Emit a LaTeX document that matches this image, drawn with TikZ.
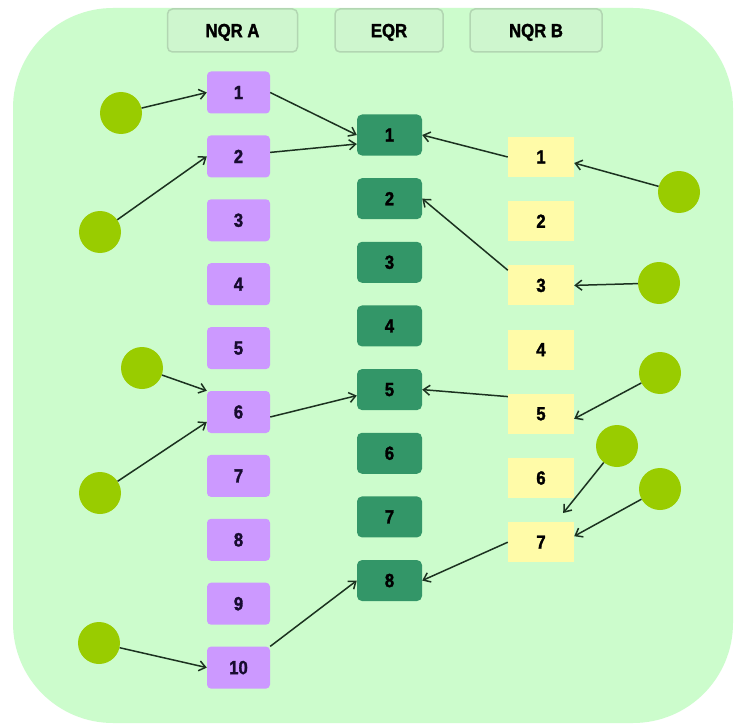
\documentclass[tikz,border=0pt]{standalone}
\usepackage{fontspec}
\setmainfont{Liberation Sans}
\newfontfamily\heavyfont{Liberation Sans}[UprightFont=*, BoldFont=* Bold, BoldFeatures={FakeBold=1.6, FakeStretch=0.88}]
\usetikzlibrary{arrows.meta}
\definecolor{bgc}{RGB}{204,252,204}
\definecolor{hdrfill}{RGB}{206,246,206}
\definecolor{hdrline}{RGB}{178,214,178}
\definecolor{purp}{RGB}{204,153,255}
\definecolor{eqrg}{RGB}{51,150,104}
\definecolor{yel}{RGB}{255,251,168}
\definecolor{dotc}{RGB}{153,204,0}
\definecolor{linec}{RGB}{28,50,32}
\definecolor{txtp}{RGB}{24,12,48}
\tikzset{
  lbl/.style={font=\heavyfont\fontsize{19}{19}\selectfont\bfseries, inner sep=0pt},
  hdr/.style={lbl, draw=hdrline, line width=1.5pt, fill=hdrfill, rounded corners=5pt, minimum height=43pt, text=black, text depth=-2.5pt},
  abox/.style={lbl, fill=purp, rounded corners=4pt, minimum width=63pt, minimum height=42pt, text=txtp},
  ebox/.style={lbl, fill=eqrg, rounded corners=5pt, minimum width=65pt, minimum height=41pt, text=black},
  bbox/.style={lbl, fill=yel, minimum width=66pt, minimum height=40pt, text=black},
  dot/.style={circle, fill=dotc, minimum size=42pt, inner sep=0pt},
  conn/.style={draw=linec, line width=1.5pt, -{Straight Barb[length=6.5pt,width=10pt,line width=1.5pt]}}
}
\begin{document}
\begin{tikzpicture}[x=1pt,y=-1pt]
\useasboundingbox (0,0) rectangle (737,725);
\fill[white] (0,0) rectangle (737,725);
\fill[bgc, rounded corners=100pt] (13,8) rectangle (733,723);
% headers
\node[hdr, minimum width=130pt] (hA) at (232.5,30.5) {NQR A};
\node[hdr, minimum width=108pt] (hE) at (389,30.5) {EQR};
\node[hdr, minimum width=132pt] (hB) at (536,30.5) {NQR B};
% boxes
\foreach \i in {1,...,10} {
  \node[abox] (a\i) at (238.5,{92.5+63.9*(\i-1)}) {\i};
}
\foreach \i in {1,...,8} {
  \node[ebox] (e\i) at (389.5,{135+63.65*(\i-1)}) {\i};
}
\foreach \i in {1,...,7} {
  \node[bbox] (b\i) at (541,{157+64.2*(\i-1)}) {\i};
}
% dots
\node[dot] (ca1) at (121,113) {};
\node[dot] (ca2) at (100,232) {};
\node[dot] (ca6a) at (142,368) {};
\node[dot] (ca6b) at (100,493) {};
\node[dot] (ca10) at (99,643) {};
\node[dot] (cb1) at (679,192) {};
\node[dot] (cb3) at (659,283) {};
\node[dot] (cb5) at (660,373) {};
\node[dot] (cb7a) at (617,446) {};
\node[dot] (cb7b) at (660,489) {};
% connectors
\draw[conn] (ca1) -- (a1.west);
\draw[conn] (ca2) -- (a2.west);
\draw[conn] (a1.east) -- (e1.west);
\draw[conn] ([yshift=4pt]a2.east) -- ([yshift=-9pt]e1.west);
\draw[conn] (b1.west) -- (e1.east);
\draw[conn] (cb1) -- ([yshift=-6pt]b1.east);
\draw[conn] ([yshift=-5pt]b3.north west) -- (e2.east);
\draw[conn] (cb3) -- (b3.east);
\draw[conn] (ca6a) -- (a6.north west);
\draw[conn] (ca6b) -- ([yshift=-10pt]a6.west);
\draw[conn] ([yshift=-5pt]a6.east) -- ([yshift=-6pt]e5.west);
\draw[conn] ([yshift=-3pt]b5.north west) -- (e5.east);
\draw[conn] (cb5) -- ([yshift=-5pt]b5.east);
\draw[conn] (cb7a) -- ([shift={(-11pt,9pt)}]b7.north east);
\draw[conn] (cb7b) -- ([yshift=6pt]b7.east);
\draw[conn] (b7.west) -- (e8.east);
\draw[conn] (ca10) -- (a10.west);
\draw[conn] (a10.north east) -- (e8.west);
\end{tikzpicture}
\end{document}
